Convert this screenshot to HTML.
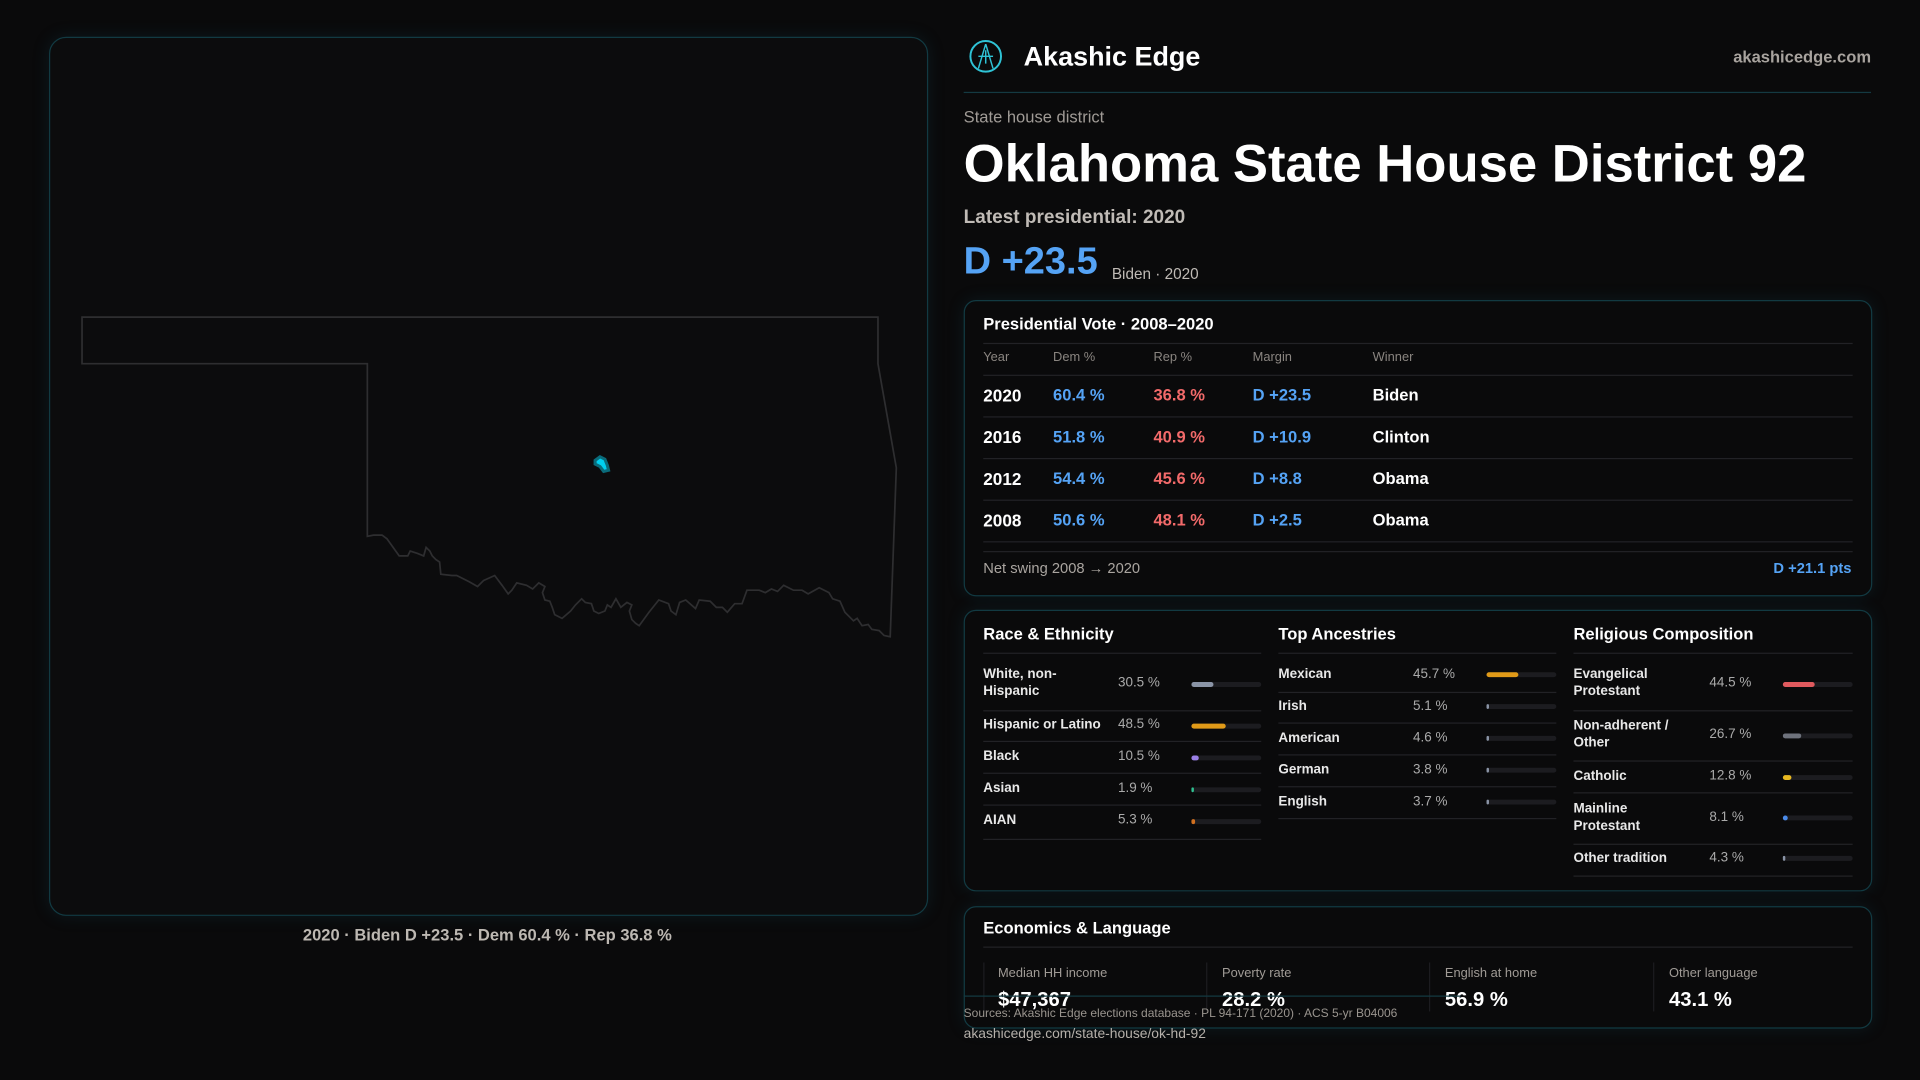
<!DOCTYPE html>
<html><head><meta charset="utf-8"><style>
html,body{margin:0;padding:0;background:#0a0a0b;width:1920px;height:1080px;overflow:hidden}
#w{position:absolute;left:0;top:0;width:1568px;height:882px;transform:scale(1.22449);transform-origin:0 0;font-family:"Liberation Sans",sans-serif;color:#fff}
.t{position:absolute;transform:translateY(-50%);white-space:nowrap;line-height:1.15}
.card{position:absolute;border:1px solid #123a42;border-radius:10px;background:#0a0a0b;box-shadow:0 0 14px rgba(20,90,110,0.18)}
.hl{position:absolute;height:1px;background:#222226}
.lab{font-size:11px;color:#e8e8e8;font-weight:bold;line-height:1.3}
.val{font-size:11px;color:#aaa}
.bar{position:absolute;height:4px;border-radius:2px;background:#1c1c20;width:57px}
.bar i{position:absolute;left:0;top:0;height:4px;border-radius:2px;display:block}
.b{font-weight:bold}
.blue{color:#55a3f5}.red{color:#f26a6a}
</style></head><body><div id="w">

<div class="card" style="left:40px;top:30px;width:716px;height:716px;border-radius:14px;background:#0c0c0d"></div>
<svg style="position:absolute;left:0;top:0" width="1568" height="882">
<path d="M67,259 L717,259 L717,297 L732,382 L727,520 L722,519 L718,515 L712,514 L709,510 L704,511 L700,505 L697,507 L690,500 L686,491 L680,489 L677,484 L669,480 L660,485 L655,482 L648,482 L640,478 L635,483 L630,481 L625,484 L620,482 L610,482 L606,493 L600,493 L594,500 L590,496 L585,496 L580,491 L571,490 L568,497 L560,490 L555,492 L552,502 L548,499 L546,493 L538,490 L534,495 L530,500 L522,511 L519,509 L516,506 L514,499 L516,494 L512,492 L507,496 L503,489 L499,496 L496,494 L494,499 L489,501 L485,499 L483,493 L478,492 L475,489 L470,494 L466,499 L459,505 L453,502 L451,496 L449,491 L445,490 L443,484 L445,479 L440,476 L435,481 L430,478 L422,476 L418,482 L415,485 L410,478 L404,470 L395,474 L390,479 L383,475 L373,470 L369,470 L360,469 L359,459 L356,457 L353,454 L351,450 L348,447 L346,454 L341,452 L335,450 L333,454 L326,454 L316,440 L312,437 L305,437 L300,438 L300,297 L67,297 Z" fill="none" stroke="#2e2e30" stroke-width="1.4"/>
<path d="M486,376 L490,373 L494,375 L496,380 L497,384 L493,385 L490,381 L486,379 Z" fill="#00d0f0" stroke="#0a6b7a" stroke-width="2.5"/>
</svg>
<div class="t" style="left:398px;top:764px;transform:translate(-50%,-50%);font-size:13.5px;color:#bdb8b2;font-weight:bold">2020 · Biden D +23.5 · Dem 60.4 % · Rep 36.8 %</div>

<svg style="position:absolute;left:791px;top:32px" width="28" height="28" viewBox="0 0 28 28"><circle cx="14" cy="14" r="12.5" fill="none" stroke="#2fc3d6" stroke-width="1.6"/><path d="M14,4 L8,24 M14,4 L20,24 M8,14 L20,14 M14,9 L14,20" stroke="#2fc3d6" stroke-width="1.2" fill="none"/></svg>
<div class="t b" style="left:836px;top:46px;font-size:22px">Akashic Edge</div>
<div class="t b" style="right:40px;top:47px;font-size:13.5px;color:#a8a39e">akashicedge.com</div>
<div class="hl" style="left:787px;top:75px;width:741px;background:#143a42"></div>
<div class="t" style="left:787px;top:96px;font-size:13.5px;color:#a09b96">State house district</div>
<div class="t b" style="left:787px;top:135px;font-size:43px;letter-spacing:0px">Oklahoma State House District 92</div>
<div class="t b" style="left:787px;top:178px;font-size:15.5px;color:#c0bbb6">Latest presidential: 2020</div>
<div class="t b blue" style="left:787px;top:213px;font-size:31px">D +23.5</div>
<div class="t" style="left:908px;top:224px;font-size:12.5px;color:#c0bbb6">Biden · 2020</div>

<div class="card" style="left:787px;top:245px;width:740px;height:240px"></div>
<div class="t b" style="left:803px;top:265px;font-size:13.5px">Presidential Vote · 2008–2020</div>
<div class="hl" style="left:803px;top:280px;width:710px"></div>
<div class="t" style="left:803px;top:292px;font-size:10.5px;color:#8a8580">Year</div>
<div class="t" style="left:860px;top:292px;font-size:10.5px;color:#8a8580">Dem %</div>
<div class="t" style="left:942px;top:292px;font-size:10.5px;color:#8a8580">Rep %</div>
<div class="t" style="left:1023px;top:292px;font-size:10.5px;color:#8a8580">Margin</div>
<div class="t" style="left:1121px;top:292px;font-size:10.5px;color:#8a8580">Winner</div>
<div class="hl" style="left:803px;top:306px;width:710px"></div>

<div class="t b" style="left:803px;top:323px;font-size:14px">2020</div>
<div class="t b blue" style="left:860px;top:323px;font-size:13.5px">60.4 %</div>
<div class="t b red" style="left:942px;top:323px;font-size:13.5px">36.8 %</div>
<div class="t b blue" style="left:1023px;top:323px;font-size:13.5px">D +23.5</div>
<div class="t b" style="left:1121px;top:323px;font-size:13.5px">Biden</div>
<div class="hl" style="left:803px;top:340px;width:710px"></div>
<div class="t b" style="left:803px;top:357px;font-size:14px">2016</div>
<div class="t b blue" style="left:860px;top:357px;font-size:13.5px">51.8 %</div>
<div class="t b red" style="left:942px;top:357px;font-size:13.5px">40.9 %</div>
<div class="t b blue" style="left:1023px;top:357px;font-size:13.5px">D +10.9</div>
<div class="t b" style="left:1121px;top:357px;font-size:13.5px">Clinton</div>
<div class="hl" style="left:803px;top:374px;width:710px"></div>
<div class="t b" style="left:803px;top:391px;font-size:14px">2012</div>
<div class="t b blue" style="left:860px;top:391px;font-size:13.5px">54.4 %</div>
<div class="t b red" style="left:942px;top:391px;font-size:13.5px">45.6 %</div>
<div class="t b blue" style="left:1023px;top:391px;font-size:13.5px">D +8.8</div>
<div class="t b" style="left:1121px;top:391px;font-size:13.5px">Obama</div>
<div class="hl" style="left:803px;top:408px;width:710px"></div>
<div class="t b" style="left:803px;top:425px;font-size:14px">2008</div>
<div class="t b blue" style="left:860px;top:425px;font-size:13.5px">50.6 %</div>
<div class="t b red" style="left:942px;top:425px;font-size:13.5px">48.1 %</div>
<div class="t b blue" style="left:1023px;top:425px;font-size:13.5px">D +2.5</div>
<div class="t b" style="left:1121px;top:425px;font-size:13.5px">Obama</div>
<div class="hl" style="left:803px;top:442px;width:710px"></div>
<div class="hl" style="left:803px;top:450px;width:710px"></div>
<div class="t" style="left:803px;top:465px;font-size:12px;color:#aaa5a0">Net swing 2008 → 2020</div>
<div class="t b blue" style="right:56px;top:465px;font-size:12px">D +21.1 pts</div>

<div class="card" style="left:787px;top:498px;width:740px;height:228px"></div>
<div class="t b" style="left:803px;top:518px;font-size:13.5px">Race &amp; Ethnicity</div>
<div class="t b" style="left:1044px;top:518px;font-size:13.5px">Top Ancestries</div>
<div class="t b" style="left:1285px;top:518px;font-size:13.5px">Religious Composition</div>
<div class="hl" style="left:803px;top:533px;width:227px"></div>
<div class="hl" style="left:1044px;top:533px;width:227px"></div>
<div class="hl" style="left:1285px;top:533px;width:228px"></div>

<div class="t lab" style="left:803px;top:558px">White, non-<br>Hispanic</div>
<div class="t val" style="left:913px;top:558px">30.5 %</div>
<div class="bar" style="left:973px;top:557px"><i style="width:18px;background:#8a94a6"></i></div>
<div class="hl" style="left:803px;top:580px;width:227px"></div>
<div class="t lab" style="left:803px;top:592px">Hispanic or Latino</div>
<div class="t val" style="left:913px;top:592px">48.5 %</div>
<div class="bar" style="left:973px;top:591px"><i style="width:28px;background:#e09a18"></i></div>
<div class="hl" style="left:803px;top:605px;width:227px"></div>
<div class="t lab" style="left:803px;top:618px">Black</div>
<div class="t val" style="left:913px;top:618px">10.5 %</div>
<div class="bar" style="left:973px;top:617px"><i style="width:6px;background:#9a80e6"></i></div>
<div class="hl" style="left:803px;top:631px;width:227px"></div>
<div class="t lab" style="left:803px;top:644px">Asian</div>
<div class="t val" style="left:913px;top:644px">1.9 %</div>
<div class="bar" style="left:973px;top:643px"><i style="width:1.5px;background:#30c090"></i></div>
<div class="hl" style="left:803px;top:657px;width:227px"></div>
<div class="t lab" style="left:803px;top:670px">AIAN</div>
<div class="t val" style="left:913px;top:670px">5.3 %</div>
<div class="bar" style="left:973px;top:669px"><i style="width:3px;background:#d07020"></i></div>
<div class="hl" style="left:803px;top:685px;width:227px"></div>

<div class="t lab" style="left:1044px;top:551px">Mexican</div>
<div class="t val" style="left:1154px;top:551px">45.7 %</div>
<div class="bar" style="left:1214px;top:549px"><i style="width:26px;background:#e09a18"></i></div>
<div class="hl" style="left:1044px;top:565px;width:227px"></div>
<div class="t lab" style="left:1044px;top:577px">Irish</div>
<div class="t val" style="left:1154px;top:577px">5.1 %</div>
<div class="bar" style="left:1214px;top:575px"><i style="width:2px;background:#8a94a6"></i></div>
<div class="hl" style="left:1044px;top:590px;width:227px"></div>
<div class="t lab" style="left:1044px;top:603px">American</div>
<div class="t val" style="left:1154px;top:603px">4.6 %</div>
<div class="bar" style="left:1214px;top:601px"><i style="width:2px;background:#8a94a6"></i></div>
<div class="hl" style="left:1044px;top:616px;width:227px"></div>
<div class="t lab" style="left:1044px;top:629px">German</div>
<div class="t val" style="left:1154px;top:629px">3.8 %</div>
<div class="bar" style="left:1214px;top:627px"><i style="width:1.5px;background:#8a94a6"></i></div>
<div class="hl" style="left:1044px;top:642px;width:227px"></div>
<div class="t lab" style="left:1044px;top:655px">English</div>
<div class="t val" style="left:1154px;top:655px">3.7 %</div>
<div class="bar" style="left:1214px;top:653px"><i style="width:1.5px;background:#8a94a6"></i></div>
<div class="hl" style="left:1044px;top:668px;width:227px"></div>

<div class="t lab" style="left:1285px;top:558px">Evangelical<br>Protestant</div>
<div class="t val" style="left:1396px;top:558px">44.5 %</div>
<div class="bar" style="left:1456px;top:557px"><i style="width:26px;background:#e05a5e"></i></div>
<div class="hl" style="left:1285px;top:580px;width:228px"></div>
<div class="t lab" style="left:1285px;top:600px">Non-adherent /<br>Other</div>
<div class="t val" style="left:1396px;top:600px">26.7 %</div>
<div class="bar" style="left:1456px;top:599px"><i style="width:15px;background:#6e727c"></i></div>
<div class="hl" style="left:1285px;top:621px;width:228px"></div>
<div class="t lab" style="left:1285px;top:634px">Catholic</div>
<div class="t val" style="left:1396px;top:634px">12.8 %</div>
<div class="bar" style="left:1456px;top:633px"><i style="width:7px;background:#e8b820"></i></div>
<div class="hl" style="left:1285px;top:647px;width:228px"></div>
<div class="t lab" style="left:1285px;top:668px">Mainline<br>Protestant</div>
<div class="t val" style="left:1396px;top:668px">8.1 %</div>
<div class="bar" style="left:1456px;top:666px"><i style="width:4px;background:#4a8ae8"></i></div>
<div class="hl" style="left:1285px;top:689px;width:228px"></div>
<div class="t lab" style="left:1285px;top:701px">Other tradition</div>
<div class="t val" style="left:1396px;top:701px">4.3 %</div>
<div class="bar" style="left:1456px;top:699px"><i style="width:2px;background:#8a94a6"></i></div>
<div class="hl" style="left:1285px;top:715px;width:228px"></div>

<div class="card" style="left:787px;top:740px;width:740px;height:98px"></div>
<div class="t b" style="left:803px;top:758px;font-size:13.5px">Economics &amp; Language</div>
<div class="hl" style="left:803px;top:773px;width:710px"></div>
<div style="position:absolute;left:803px;top:786px;width:1px;height:40px;background:#1c1c20"></div>
<div style="position:absolute;left:985px;top:786px;width:1px;height:40px;background:#1c1c20"></div>
<div style="position:absolute;left:1167px;top:786px;width:1px;height:40px;background:#1c1c20"></div>
<div style="position:absolute;left:1350px;top:786px;width:1px;height:40px;background:#1c1c20"></div>
<div class="t" style="left:815px;top:795px;font-size:10.5px;color:#a09b96">Median HH income</div>
<div class="t" style="left:998px;top:795px;font-size:10.5px;color:#a09b96">Poverty rate</div>
<div class="t" style="left:1180px;top:795px;font-size:10.5px;color:#a09b96">English at home</div>
<div class="t" style="left:1363px;top:795px;font-size:10.5px;color:#a09b96">Other language</div>
<div class="t b" style="left:815px;top:817px;font-size:16.5px">$47,367</div>
<div class="t b" style="left:998px;top:817px;font-size:16.5px">28.2 %</div>
<div class="t b" style="left:1180px;top:817px;font-size:16.5px">56.9 %</div>
<div class="t b" style="left:1363px;top:817px;font-size:16.5px">43.1 %</div>

<div class="hl" style="left:787px;top:813px;width:406px;background:#143a42"></div>
<div class="t" style="left:787px;top:828px;font-size:9.8px;color:#9a958f">Sources: Akashic Edge elections database · PL 94-171 (2020) · ACS 5-yr B04006</div>
<div class="t" style="left:787px;top:845px;font-size:11.3px;color:#b5b0aa">akashicedge.com/state-house/ok-hd-92</div>
</div></body></html>
